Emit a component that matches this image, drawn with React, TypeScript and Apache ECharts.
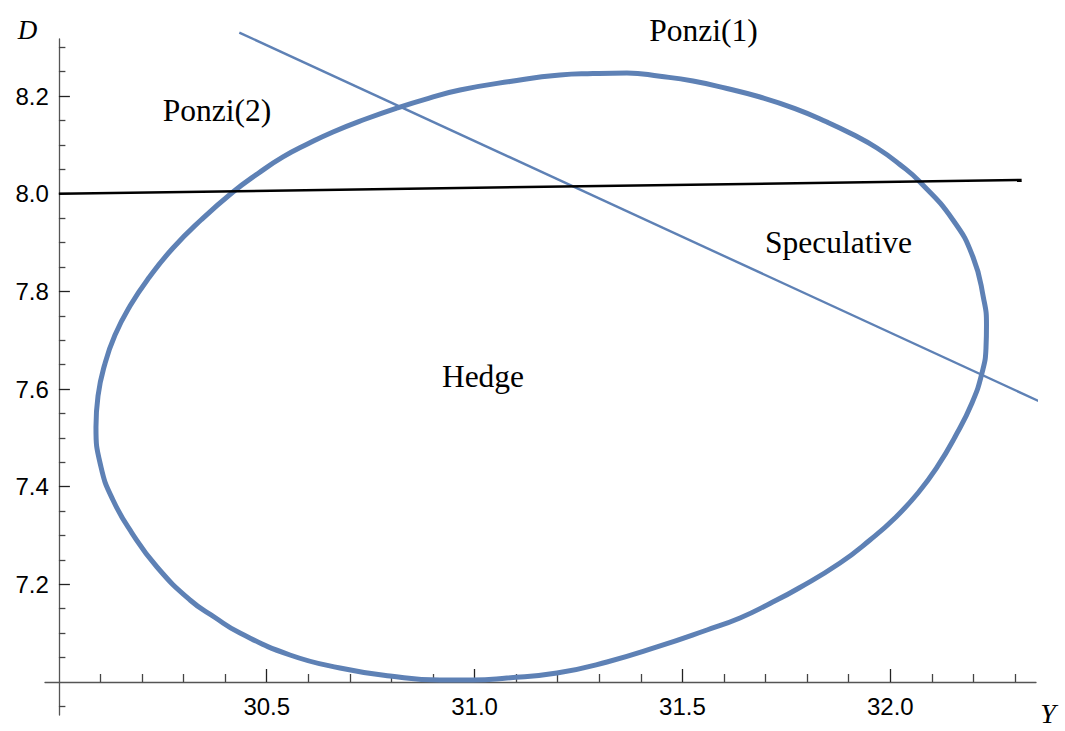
import React, { useEffect, useRef } from "react";
import * as echarts from "echarts";

// Closed curve (Y on the horizontal axis, D on the vertical axis)
const ellipseY = [
  30.0892, 30.0941, 30.1099, 30.135, 30.171, 30.2179, 30.2745, 30.3418, 30.4188, 30.479,
  30.5391, 30.5992, 30.6594, 30.7363, 30.8133, 30.8891, 30.9649, 31.0851, 31.2054, 31.2848,
  31.3666, 31.446, 31.5254, 31.6072, 31.6866, 31.7708, 31.8477, 31.9091, 31.968, 32.0221,
  32.0714, 32.1508, 32.1989, 32.2242, 32.2314, 32.2302, 32.2206, 32.1965, 32.1556, 32.1143,
  32.0666, 32.0113, 31.9512, 31.879, 31.7804, 31.7106, 31.6384, 31.559, 31.4388, 31.3185,
  31.1982, 31.0779, 30.9962, 30.9168, 30.7965, 30.6762, 30.5559, 30.4357, 30.3755, 30.3154,
  30.236, 30.1758, 30.1301, 30.1013, 30.0892, 30.0941,
];
const ellipseD = [
  7.5222, 7.5857, 7.6492, 7.7106, 7.77, 7.8294, 7.8888, 7.9461, 8.0035, 8.0414,
  8.0752, 8.1022, 8.1264, 8.1524, 8.1755, 8.1954, 8.2124, 8.2298, 8.2431, 8.246,
  8.2472, 8.2404, 8.2308, 8.2154, 8.198, 8.1743, 8.1468, 8.1216, 8.0936, 8.0604,
  8.024, 7.9461, 7.8704, 7.7864, 7.7311, 7.684, 7.6328, 7.5714, 7.5017, 7.4424,
  7.3871, 7.3359, 7.2908, 7.2437, 7.1925, 7.1608, 7.1311, 7.1065, 7.0717, 7.041,
  7.0184, 7.0082, 7.0041, 7.0041, 7.0123, 7.0287, 7.0553, 7.1003, 7.1321, 7.1679,
  7.2355, 7.3051, 7.3727, 7.4403, 7.5222, 7.5857,
];

// Falling blue straight line
const slopeLineY = [30.434, 32.368];
const slopeLineD = [8.33, 7.571];

// Nearly flat black line
const flatLineY = [30.0, 32.316];
const flatLineD = [8.0, 8.028];

// Ticks
const xMajorTicks = [30.5, 31.0, 31.5, 32.0];
const xMinorTicks = [
  30.1, 30.2, 30.3, 30.4, 30.6, 30.7, 30.8, 30.9, 31.1, 31.2, 31.3, 31.4,
  31.6, 31.7, 31.8, 31.9, 32.1, 32.2, 32.3,
];
const yMajorTicks = [7.2, 7.4, 7.6, 7.8, 8.0, 8.2];
const yMinorTicks = [
  6.95, 7.05, 7.1, 7.15, 7.25, 7.3, 7.35, 7.45, 7.5, 7.55, 7.65, 7.7, 7.75,
  7.85, 7.9, 7.95, 8.05, 8.1, 8.15, 8.25, 8.3,
];

// Axis ranges
const X_MIN = 29.9666;
const X_MAX = 32.3505;
const Y_MIN = 6.9324;
const Y_MAX = 8.3168;

const regionLabels = ["Ponzi(1)", "Ponzi(2)", "Speculative", "Hedge"];

const zip = (a: number[], b: number[]) => a.map((v, i) => [v, b[i]]);

const BLUE = "#5e81b5";
const SANS = "'Liberation Sans', Arial, sans-serif";
const SERIF = "'Liberation Serif', 'Times New Roman', serif";

export default function App() {
  const ref = useRef<HTMLDivElement>(null);

  useEffect(() => {
    document.body.style.margin = "0";
    if (!ref.current) return;
    const chart = echarts.init(ref.current, null, { renderer: "svg" });

    const baseX = {
      type: "value" as const,
      min: X_MIN,
      max: X_MAX,
      position: "bottom" as const,
      offset: -33,
      splitLine: { show: false },
    };
    const baseY = {
      type: "value" as const,
      min: Y_MIN,
      max: Y_MAX,
      position: "left" as const,
      offset: -13.9,
      splitLine: { show: false },
    };

    const labelStyle = {
      fontSize: 24,
      fontFamily: SANS,
      color: "#000",
      formatter: (v: number) => v.toFixed(1),
    };

    const textEl = (
      text: string,
      x: number,
      y: number,
      size: number,
      italic = false
    ) => ({
      type: "text",
      x,
      y,
      silent: true,
      style: {
        text,
        fill: "#000",
        font: `${italic ? "italic " : ""}${size}px ${SERIF}`,
        textAlign: "center",
        textVerticalAlign: "middle",
      },
    });

    chart.setOption({
      animation: false,
      backgroundColor: "#fff",
      grid: { left: 45, right: 29, top: 39, bottom: 16, containLabel: false },
      xAxis: [
        {
          ...baseX,
          axisLine: { show: true, onZero: false, lineStyle: { color: "#555", width: 1.3 } },
          axisTick: {
            show: true,
            inside: true,
            length: 13,
            customValues: xMajorTicks,
            lineStyle: { color: "#222", width: 1.3 },
          },
          axisLabel: { ...labelStyle, customValues: xMajorTicks, margin: 12 },
        },
        {
          ...baseX,
          axisLine: { show: false, onZero: false },
          axisTick: {
            show: true,
            inside: true,
            length: 8,
            customValues: xMinorTicks,
            lineStyle: { color: "#444", width: 1.3 },
          },
          axisLabel: { show: false },
        },
      ],
      yAxis: [
        {
          ...baseY,
          axisLine: { show: true, onZero: false, lineStyle: { color: "#555", width: 1.3 } },
          axisTick: {
            show: true,
            inside: true,
            length: 11,
            customValues: yMajorTicks,
            lineStyle: { color: "#222", width: 1.3 },
          },
          axisLabel: { ...labelStyle, customValues: yMajorTicks, margin: 10 },
        },
        {
          ...baseY,
          axisLine: { show: false, onZero: false },
          axisTick: {
            show: true,
            inside: true,
            length: 6.5,
            customValues: yMinorTicks,
            lineStyle: { color: "#444", width: 1.3 },
          },
          axisLabel: { show: false },
        },
      ],
      series: [
        {
          type: "line",
          name: "ellipse",
          xAxisIndex: 0,
          yAxisIndex: 0,
          data: zip(ellipseY, ellipseD),
          smooth: 0.5,
          symbol: "none",
          clip: false,
          lineStyle: { color: BLUE, width: 5 },
          z: 3,
        },
        {
          type: "line",
          name: "slope",
          xAxisIndex: 0,
          yAxisIndex: 0,
          data: zip(slopeLineY, slopeLineD),
          symbol: "none",
          clip: false,
          lineStyle: { color: BLUE, width: 2.4 },
          z: 4,
        },
        {
          type: "line",
          name: "flat",
          xAxisIndex: 0,
          yAxisIndex: 0,
          data: zip(flatLineY, flatLineD),
          symbol: "none",
          clip: false,
          lineStyle: { color: "#000", width: 2.5 },
          z: 5,
        },
      ],
      graphic: [
        textEl(regionLabels[0], 703.5, 30, 31.5),
        textEl(regionLabels[1], 217, 110, 31.5),
        textEl(regionLabels[2], 838.5, 242, 31.5),
        textEl(regionLabels[3], 483, 376, 31.5),
        textEl("D", 27.5, 30, 27, true),
        textEl("Y", 1048, 713, 28, true),
      ],
    });

    return () => chart.dispose();
  }, []);

  return <div ref={ref} style={{ width: 1065, height: 731 }} />;
}
